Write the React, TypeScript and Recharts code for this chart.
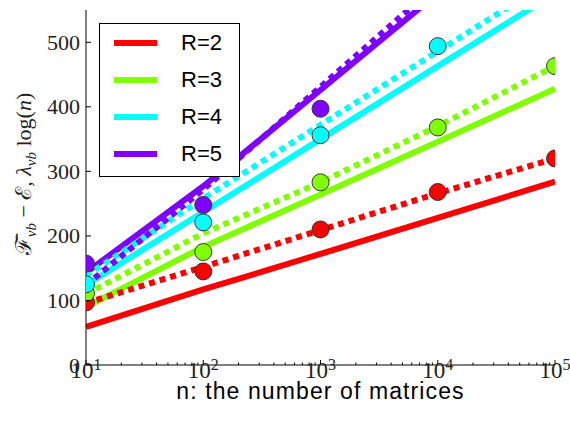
import React from 'react';
import { ComposedChart, Line, XAxis, YAxis } from 'recharts';

// n values (log x axis)
const N_VALUES = [10, 100, 1000, 10000, 100000];
const DECADE_EXPONENTS = ['1', '2', '3', '4', '5'];
const Y_TICKS = [0, 100, 200, 300, 400, 500];

const R_LABELS = ['R=2', 'R=3', 'R=4', 'R=5'];
const R_COLORS = ['#ff0000', '#80ff00', '#00ffff', '#7f00ff'];

// solid lines: lambda_vb log(n)
const solidR2 = [59, 117, 172, 228, 284];
const solidR3 = [90, 183, 264, 346, 428];
const solidR4 = [124, 237, 350, 463, 576];
const solidR5 = [143, 277, 426, 576, 726];

// dotted lines
const dottedR2 = [96, 152, 209, 266, 320];
const dottedR3 = [110, 204, 283, 370, 463];
const dottedR4 = [138, 258, 372, 486, 600];
const dottedR5 = [124, 272, 431, 590, 750];

// measured points (null = off the chart)
const pointsR2 = [97, 145, 210, 268, 320];
const pointsR3 = [111, 175, 283, 368, 463];
const pointsR4 = [125, 221, 356, 494, null];
const pointsR5 = [157, 248, 397, null, null];

const SOLID = [solidR2, solidR3, solidR4, solidR5];
const DOTTED = [dottedR2, dottedR3, dottedR4, dottedR5];
const POINTS = [pointsR2, pointsR3, pointsR4, pointsR5];

const chartData = N_VALUES.map((n, i) => {
  const row: Record<string, number | null> = { n };
  SOLID.forEach((s, k) => { row[`s${k}`] = s[i]; });
  DOTTED.forEach((d, k) => { row[`d${k}`] = d[i]; });
  POINTS.forEach((p, k) => { row[`p${k}`] = p[i]; });
  return row;
});

const X_TICKS: number[] = [];
N_VALUES.slice(0, 4).forEach(dec => {
  for (let k = 1; k < 10; k++) X_TICKS.push(dec * k);
});
X_TICKS.push(100000);

const SERIF = "'Liberation Serif', 'DejaVu Serif', serif";
const SANS = "'Liberation Sans', Arial, sans-serif";
const INK = '#000';

const BottomTick = (props: any) => {
  const { x, y, payload } = props;
  const idx = N_VALUES.indexOf(payload.value);
  const major = idx >= 0;
  return (
    <g>
      <line x1={x} x2={x} y1={y} y2={y - (major ? 5 : 2.5)} stroke={INK} />
      {major && (
        <text x={x} y={y + 13} textAnchor="middle" fontFamily={SERIF} fontSize={23} fill="#222">
          <tspan>10</tspan>
          <tspan dy={-8} fontSize={16}>{DECADE_EXPONENTS[idx]}</tspan>
        </text>
      )}
    </g>
  );
};

const TopTick = (props: any) => {
  const { x, y, payload } = props;
  const major = N_VALUES.includes(payload.value);
  return <line x1={x} x2={x} y1={y} y2={y + (major ? 5 : 2.5)} stroke={INK} />;
};

const LeftTick = (props: any) => {
  const { x, y, payload } = props;
  return (
    <g>
      <line x1={x} x2={x + 5} y1={y} y2={y} stroke={INK} />
      <text x={x - 6} y={y} textAnchor="end" dominantBaseline="central" fontFamily={SERIF} fontSize={22} fill="#222">
        {payload.value}
      </text>
    </g>
  );
};

const RightTick = (props: any) => {
  const { x, y } = props;
  return <line x1={x} x2={x - 5} y1={y} y2={y} stroke={INK} />;
};

const YLabel = () => (
  <text
    x={31}
    y={174}
    transform="rotate(-90 31 174)"
    textAnchor="middle"
    fontFamily={SERIF}
    fontSize={22}
    fill="#222"
  >
    <tspan>ℱ̄</tspan>
    <tspan fontSize={15} dy={5} fontStyle="italic">vb</tspan>
    <tspan dy={-5}> − ℰ, </tspan>
    <tspan fontStyle="italic">λ</tspan>
    <tspan fontSize={15} dy={5} fontStyle="italic">vb</tspan>
    <tspan dy={-5}> log(</tspan>
    <tspan fontStyle="italic">n</tspan>
    <tspan>)</tspan>
  </text>
);

const pointDot = (color: string) => (props: any) => {
  if (props.value === null || props.value === undefined) return <g key={props.index} />;
  return <circle key={props.index} cx={props.cx} cy={props.cy} r={8.5} fill={color} stroke="#333" strokeWidth={1} />;
};

const LegendBox: React.FC = () => (
  <div
    style={{
      position: 'absolute',
      left: 99,
      top: 23,
      width: 139,
      height: 152,
      border: '1px solid #000',
      background: '#fff',
    }}
  >
    {R_LABELS.map((label, i) => (
      <div key={label} style={{ position: 'absolute', left: 0, top: 19 + i * 37 - 3, width: '100%' }}>
        <div style={{ position: 'absolute', left: 14, top: 0, width: 43, height: 6, background: R_COLORS[i] }} />
        <div
          style={{
            position: 'absolute',
            left: 81,
            top: -11,
            fontFamily: SANS,
            fontSize: 22,
            lineHeight: '28px',
            color: '#000',
          }}
        >
          {label}
        </div>
      </div>
    ))}
  </div>
);

const App: React.FC = () => {
  return (
    <div style={{ position: 'absolute', left: 0, top: 0, width: 570, height: 425, background: '#fff' }}>
      <ComposedChart width={570} height={425} data={chartData} margin={{ top: 10, right: 15, bottom: 0, left: 0 }}>
        <XAxis
          dataKey="n"
          type="number"
          scale="log"
          domain={[10, 100000]}
          allowDataOverflow
          ticks={X_TICKS}
          interval={0}
          height={60}
          tickSize={0}
          tickMargin={0}
          tickLine={false}
          tick={BottomTick}
          axisLine={{ stroke: INK }}
          label={{
            value: 'n: the number of matrices',
            position: 'insideBottom',
            offset: 26,
            fontSize: 23,
            letterSpacing: 1.1,
            fontFamily: SANS,
            fill: '#000',
          }}
        />
        <XAxis
          xAxisId="top"
          orientation="top"
          dataKey="n"
          type="number"
          scale="log"
          domain={[10, 100000]}
          allowDataOverflow
          ticks={X_TICKS}
          interval={0}
          height={0}
          tickSize={0}
          tickMargin={0}
          tickLine={false}
          tick={TopTick}
          axisLine={{ stroke: INK }}
        />
        <YAxis
          type="number"
          domain={[0, 550]}
          allowDataOverflow
          ticks={Y_TICKS}
          interval={0}
          width={86}
          tickSize={0}
          tickMargin={0}
          tickLine={false}
          tick={LeftTick}
          axisLine={{ stroke: INK }}
          label={YLabel}
        />
        <YAxis
          yAxisId="right"
          orientation="right"
          type="number"
          domain={[0, 550]}
          allowDataOverflow
          ticks={Y_TICKS}
          interval={0}
          width={0}
          tickSize={0}
          tickMargin={0}
          tickLine={false}
          tick={RightTick}
          axisLine={{ stroke: INK }}
        />
        {R_COLORS.map((color, k) => (
          <Line
            key={`s${k}`}
            type="linear"
            dataKey={`s${k}`}
            stroke={color}
            strokeWidth={6}
            dot={false}
            activeDot={false}
            isAnimationActive={false}
          />
        ))}
        {R_COLORS.map((color, k) => (
          <Line
            key={`d${k}`}
            type="linear"
            dataKey={`d${k}`}
            stroke={color}
            strokeWidth={6}
            strokeDasharray="6 5"
            dot={false}
            activeDot={false}
            isAnimationActive={false}
          />
        ))}
        {R_COLORS.map((color, k) => (
          <Line
            key={`p${k}`}
            type="linear"
            dataKey={`p${k}`}
            stroke="none"
            strokeWidth={0}
            dot={pointDot(color)}
            activeDot={false}
            isAnimationActive={false}
          />
        ))}
      </ComposedChart>
      <LegendBox />
    </div>
  );
};

export default App;
